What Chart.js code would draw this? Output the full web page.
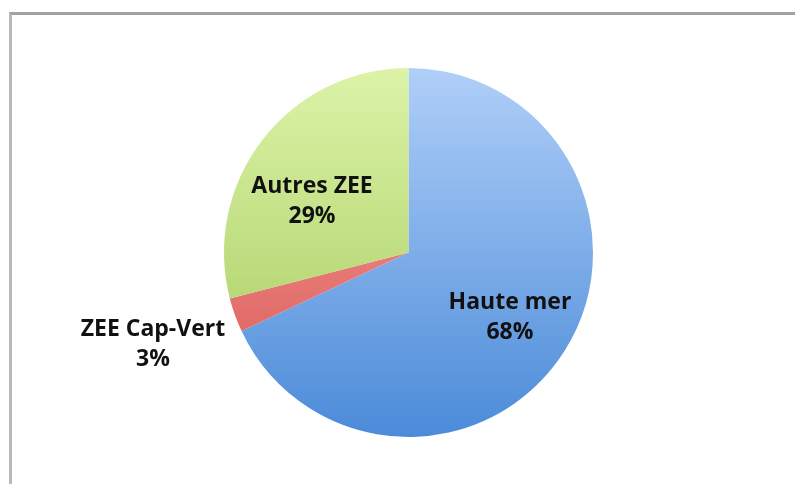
<!DOCTYPE html>
<html>
<head>
<meta charset="utf-8">
<script src="https://cdn.jsdelivr.net/npm/chart.js@4.4.1/dist/chart.umd.min.js"></script>
<style>
  html, body { margin: 0; padding: 0; background: #fff; }
  #frame {
    position: absolute; left: 9px; top: 12px; width: 786px; height: 472px;
    border-top: 3px solid #a3a3a3; border-left: 3px solid #b9b9b9;
  }
  #wrap { position: absolute; left: 0; top: 0; width: 795px; height: 484px; }
</style>
</head>
<body>
<div id="frame"></div>
<div id="wrap"><canvas id="pie-chart" width="795" height="484"></canvas></div>
<script>
// Data
const categories = ["Haute mer", "ZEE Cap-Vert", "Autres ZEE"];
const shares = [68, 3, 29];

// slice colours (top -> bottom of the pie)
const sliceColours = [
  ["#b0cff8", "#4b8bd9"],
  ["#f5a6a2", "#d9534f"],
  ["#dcf3a8", "#a3c95a"],
];

// label placement, in units of the pie radius from its centre
const labelOffsets = [
  [0.55, 0.352],
  [-1.385, 0.499],
  [-0.523, -0.276],
];

function sliceFill(ctx) {
  const chart = ctx.chart;
  const area = chart.chartArea;
  if (!area) return sliceColours[ctx.dataIndex][0];
  const g = chart.ctx.createLinearGradient(0, area.top, 0, area.bottom);
  g.addColorStop(0, sliceColours[ctx.dataIndex][0]);
  g.addColorStop(1, sliceColours[ctx.dataIndex][1]);
  return g;
}

// Draws "name / xx%" labels
const pieLabels = {
  id: "pieLabels",
  afterDatasetsDraw(chart) {
    const ctx = chart.ctx;
    const meta = chart.getDatasetMeta(0);
    ctx.save();
    ctx.font = "bold 23px 'Open Sans'";
    ctx.fillStyle = "#111";
    ctx.textAlign = "center";
    ctx.textBaseline = "middle";
    meta.data.forEach((arc, i) => {
      const r = arc.outerRadius;
      const x = arc.x + labelOffsets[i][0] * r;
      const y = arc.y + labelOffsets[i][1] * r;
      ctx.fillText(chart.data.labels[i], x, y - 15);
      ctx.fillText(shares[i] + "%", x, y + 15);
    });
    ctx.restore();
  },
};

const ctx = document.getElementById("pie-chart").getContext("2d");
new Chart(ctx, {
  type: "pie",
  data: {
    labels: categories,
    datasets: [
      {
        data: shares,
        backgroundColor: sliceFill,
        borderWidth: 0,
      },
    ],
  },
  options: {
    responsive: false,
    animation: false,
    layout: { padding: { top: 68, bottom: 47, left: 22, right: 0 } },
    plugins: {
      legend: { display: false },
      tooltip: { enabled: false },
    },
  },
  plugins: [pieLabels],
});
</script>
</body>
</html>
